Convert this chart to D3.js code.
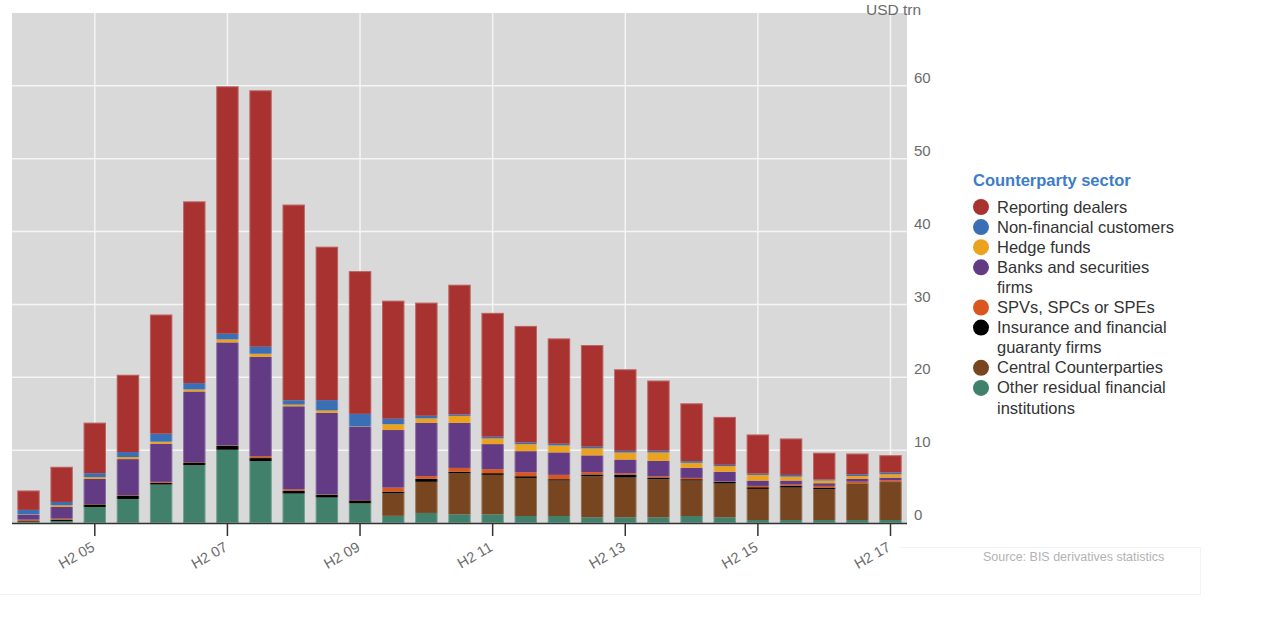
<!DOCTYPE html>
<html><head><meta charset="utf-8">
<script src="https://cdn.jsdelivr.net/npm/d3@7"></script>
<style>body{margin:0;background:#fff}svg{display:block;font-family:"Liberation Sans",Arial,sans-serif}</style>
</head><body>
<svg id="c" width="1264" height="636"></svg>
<script>
const periods = ["H2 04","H1 05","H2 05","H1 06","H2 06","H1 07","H2 07","H1 08","H2 08","H1 09","H2 09","H1 10","H2 10","H1 11","H2 11","H1 12","H2 12","H1 13","H2 13","H1 14","H2 14","H1 15","H2 15","H1 16","H2 16","H1 17","H2 17"];
const otherResidual = [0.2,0.28,2.2,3.3,5.28,7.94,10.05,8.5,4.04,3.5,2.7,0.98,1.38,1.19,1.19,0.96,0.96,0.78,0.78,0.78,0.96,0.78,0.41,0.41,0.41,0.41,0.41];
const centralCounterparties = [0,0,0,0,0,0,0,0,0,0,0,3.08,4.27,5.62,5.42,5.23,4.87,5.65,5.46,5.23,4.87,4.64,4.27,4.45,4.22,5.0,5.19];
const insurance = [0.08,0.18,0.35,0.46,0.23,0.37,0.55,0.41,0.41,0.39,0.41,0.25,0.42,0.23,0.23,0.23,0.18,0.23,0.41,0.23,0.18,0.23,0.23,0.23,0.23,0.03,0.03];
const spvs = [0.18,0.14,0.05,0.05,0.14,0.05,0.05,0.23,0.18,0.05,0.05,0.55,0.36,0.52,0.55,0.55,0.6,0.32,0.18,0.18,0.18,0.05,0.18,0.18,0.23,0.23,0.23];
const banks = [0.69,1.6,3.44,4.96,5.23,9.69,14.14,13.68,11.39,11.18,10.05,7.9,7.33,6.18,3.44,2.89,3.08,2.3,1.88,2.11,1.38,1.33,0.73,0.55,0.37,0.37,0.37];
const hedgeFunds = [0.05,0.23,0.25,0.28,0.28,0.28,0.41,0.41,0.23,0.33,0.05,0.8,0.6,0.96,0.78,0.96,0.96,0.96,0.96,1.15,0.69,0.78,0.78,0.55,0.37,0.41,0.46];
const nonFinancial = [0.6,0.46,0.55,0.69,1.1,0.87,0.78,0.96,0.6,1.42,1.72,0.75,0.36,0.2,0.23,0.23,0.23,0.23,0.23,0.23,0.23,0.18,0.18,0.23,0.14,0.23,0.23];
const reportingDealers = [2.66,4.82,6.93,10.6,16.35,24.95,33.96,35.2,26.85,21.05,19.6,16.2,15.52,17.8,17.0,16.0,14.46,13.96,11.2,9.64,7.94,6.57,5.37,5.0,3.67,2.85,2.39];
const yTicks = [0,10,20,30,40,50,60];
const xTickLabels = ["H2 05","H2 07","H2 09","H2 11","H2 13","H2 15","H2 17"];

// stack order bottom -> top
const series = [
  {key:"other", name:"Other residual financial institutions", values:otherResidual, color:"#41806b"},
  {key:"ccp", name:"Central Counterparties", values:centralCounterparties, color:"#774620"},
  {key:"ins", name:"Insurance and financial guaranty firms", values:insurance, color:"#000000"},
  {key:"spv", name:"SPVs, SPCs or SPEs", values:spvs, color:"#d9571e"},
  {key:"banks", name:"Banks and securities firms", values:banks, color:"#633b84"},
  {key:"hedge", name:"Hedge funds", values:hedgeFunds, color:"#eaa21f"},
  {key:"nonfin", name:"Non-financial customers", values:nonFinancial, color:"#3a6eb5"},
  {key:"dealers", name:"Reporting dealers", values:reportingDealers, color:"#a83230"}
];
const legendLines = [
  {key:"dealers", lines:["Reporting dealers"]},
  {key:"nonfin", lines:["Non-financial customers"]},
  {key:"hedge", lines:["Hedge funds"]},
  {key:"banks", lines:["Banks and securities","firms"]},
  {key:"spv", lines:["SPVs, SPCs or SPEs"]},
  {key:"ins", lines:["Insurance and financial","guaranty firms"]},
  {key:"ccp", lines:["Central Counterparties"]},
  {key:"other", lines:["Other residual financial","institutions"]}
];

const rows = periods.map((p,i)=>{const r={period:p}; series.forEach(s=>r[s.key]=s.values[i]); return r;});
const stacked = d3.stack().keys(series.map(s=>s.key))(rows);

const svg = d3.select("#c");
const L=12, R=907, T=13, B=523;
const x = d3.scaleBand().domain(periods).range([L,R]).paddingInner(0.325).paddingOuter(0.16);
const y = d3.scaleLinear().domain([0,70]).range([B,T]);

// faint page panels
svg.append("line").attr("x1",0).attr("x2",1200).attr("y1",594.5).attr("y2",594.5).attr("stroke","#f0f0f0");
svg.append("line").attr("x1",900).attr("x2",1200).attr("y1",547.5).attr("y2",547.5).attr("stroke","#f3f3f3");
svg.append("line").attr("x1",1200.5).attr("x2",1200.5).attr("y1",547).attr("y2",595).attr("stroke","#f3f3f3");

svg.append("rect").attr("x",L).attr("y",T).attr("width",R-L).attr("height",B-T).attr("fill","#d9d9d9");

// gridlines
svg.append("g").selectAll("line").data(yTicks.filter(d=>d>0)).join("line")
  .attr("x1",L).attr("x2",R).attr("y1",d=>y(d)).attr("y2",d=>y(d))
  .attr("stroke","#f5f5f5").attr("stroke-width",1.5);
svg.append("g").selectAll("line").data(xTickLabels).join("line")
  .attr("x1",d=>x(d)+x.bandwidth()/2).attr("x2",d=>x(d)+x.bandwidth()/2).attr("y1",T).attr("y2",B)
  .attr("stroke","#f5f5f5").attr("stroke-width",1.5);

// bars
const colorOf = Object.fromEntries(series.map(s=>[s.key,s.color]));
svg.append("g").selectAll("g").data(stacked).join("g").attr("fill",d=>colorOf[d.key])
  .selectAll("rect").data(d=>d).join("rect")
  .attr("x",d=>x(d.data.period)).attr("width",x.bandwidth())
  .attr("y",d=>y(d[1])).attr("height",d=>Math.max(0,y(d[0])-y(d[1])));
// subtle outline
svg.append("g").selectAll("rect").data(rows).join("rect")
  .attr("x",d=>x(d.period)+0.5).attr("width",x.bandwidth()-1)
  .attr("y",d=>y(series.reduce((a,s)=>a+d[s.key],0))+0.5)
  .attr("height",d=>y(0)-y(series.reduce((a,s)=>a+d[s.key],0))-1)
  .attr("fill","none").attr("stroke","#fff").attr("stroke-opacity",0.25);

// x axis
const xAxis = d3.axisBottom(x).tickValues(xTickLabels).tickSize(13).tickSizeOuter(0);
const gx = svg.append("g").attr("transform",`translate(0,${B})`).call(xAxis);
gx.select(".domain").attr("stroke","#333").attr("stroke-width",1.5).attr("d",`M${L},0.5H${R}`);
gx.selectAll(".tick line").attr("stroke","#333").attr("stroke-width",1.5);
gx.selectAll(".tick text").attr("font-size",14.5).attr("fill","#6b6b6b").attr("font-family","Liberation Sans, Arial, sans-serif")
  .attr("text-anchor","end").attr("dy",null).attr("y",0)
  .attr("transform","translate(1,27) rotate(-30)");

// y axis labels (right), sitting above their gridlines
const yAxis = d3.axisRight(y).tickValues(yTicks).tickSize(0).tickPadding(7);
const gy = svg.append("g").attr("transform",`translate(${R},0)`).call(yAxis);
gy.select(".domain").remove();
gy.selectAll(".tick text").attr("font-size",15).attr("fill","#6b6b6b").attr("dy","-0.22em")
  .attr("font-family","Liberation Sans, Arial, sans-serif");
svg.append("text").attr("x",866).attr("y",15).attr("font-size",15.5).attr("fill","#6b6b6b").text("USD trn");

// legend
const lg = svg.append("g");
lg.append("text").attr("x",973).attr("y",186).attr("font-size",16.5).attr("font-weight","bold").attr("fill","#3d7cc9").text("Counterparty sector");
let ly = 207;
legendLines.forEach(item=>{
  lg.append("circle").attr("cx",981).attr("cy",ly).attr("r",8).attr("fill",colorOf[item.key]);
  item.lines.forEach((t,j)=>{
    lg.append("text").attr("x",997).attr("y",ly+5.5+j*20.3).attr("font-size",16.5).attr("fill","#333").text(t);
  });
  ly += 20.1*item.lines.length;
});

svg.append("text").attr("x",983).attr("y",561).attr("font-size",12.5).attr("fill","#b3b3b3").text("Source: BIS derivatives statistics");
</script>
</body></html>
